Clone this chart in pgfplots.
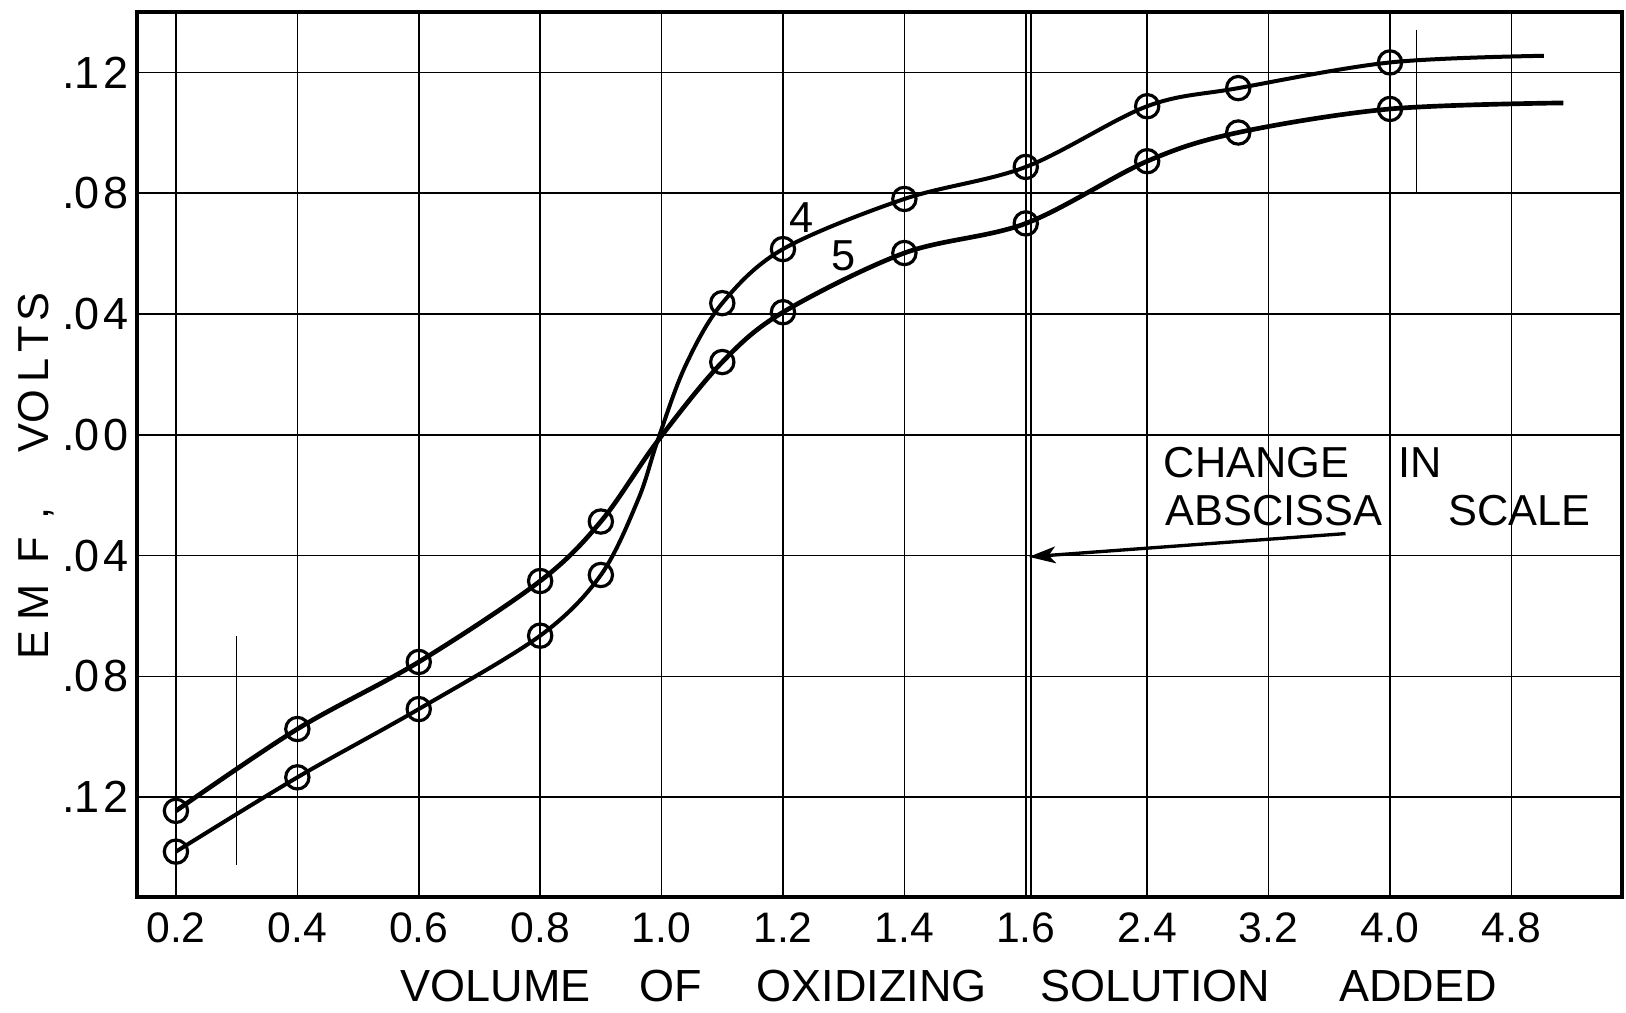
\documentclass[border=0pt]{standalone}
\usepackage{fontspec}
\setmainfont{Liberation Sans}
\usepackage{pgfplots}
\pgfplotsset{compat=1.18}
\usetikzlibrary{arrows.meta}

\begin{document}
\begin{tikzpicture}
\useasboundingbox (0,0) rectangle (487.8pt,303.9pt);
\begin{axis}[
  at={(41pt,34.9pt)}, anchor=south west,
  scale only axis, width=445.6pt, height=265.3pt,
  xmin=0.1353, xmax=2.5822, ymin=-0.1529, ymax=0.1399,
  xtick={0.2,0.4,0.6,0.8,1.0,1.2,1.4,1.6,1.8,2.0,2.2,2.4},
  xticklabels={0.2,0.4,0.6,0.8,1.0,1.2,1.4,1.6,2.4,3.2,4.0,4.8},
  ytick={-0.12,-0.08,-0.04,0,0.04,0.08,0.12},
  yticklabels={.1\kern1.2pt 2,.0\kern1.2pt 8,.0\kern1.2pt 4,.0\kern1.2pt 0,.0\kern1.2pt 4,.0\kern1.2pt 8,.1\kern1.2pt 2},
  major tick length=0pt,
  grid=major,
  major grid style={black, line width=0.5pt},
  axis line style={black, line width=1.15pt},
  xticklabel style={font=\fontsize{12.8}{14}\selectfont, inner sep=0pt, anchor=north},
  yticklabel style={font=\fontsize{13.5}{15}\selectfont, inner sep=0pt, anchor=east},
  xticklabel shift=4.6pt, yticklabel shift=2.2pt,
  clip=false,
]
% curve 4 (steep)
\addplot[black, line width=1.2pt, smooth, tension=0.55] coordinates {
 (0.2,-0.1380) (0.4,-0.1134) (0.6,-0.0908) (0.8,-0.0665) (0.9,-0.0464)
 (0.9613,-0.0215) (0.993,-0.0022) (1.0387,0.0226) (1.1,0.0436) (1.2,0.0615)
 (1.4,0.0781) (1.6,0.0887) (1.8,0.1088) (1.95,0.1148)
 (2.2,0.1233) (2.4535,0.1255)};
% curve 5
\addplot[black, line width=1.4pt, smooth, tension=0.55] coordinates {
 (0.2,-0.1245) (0.4,-0.0974) (0.6,-0.0752) (0.8,-0.0484) (0.9,-0.0287)
 (0.993,-0.0022) (1.1,0.0241) (1.2,0.0406) (1.4,0.0602) (1.6,0.0700)
 (1.8,0.0906) (1.95,0.1001) (2.2,0.1079) (2.4857,0.1099)};
\addplot[only marks, black, mark=o, mark size=3.5pt, mark options={line width=0.95pt}] coordinates {
 (0.2,-0.1380) (0.4,-0.1134) (0.6,-0.0908) (0.8,-0.0665) (0.9,-0.0464)
 (1.1,0.0436) (1.2,0.0615) (1.4,0.0781) (1.6,0.0887) (1.8,0.1088)
 (1.95,0.1148) (2.2,0.1233)};
\addplot[only marks, black, mark=o, mark size=3.5pt, mark options={line width=0.95pt}] coordinates {
 (0.2,-0.1245) (0.4,-0.0974) (0.6,-0.0752) (0.8,-0.0484) (0.9,-0.0287)
 (1.1,0.0241) (1.2,0.0406) (1.4,0.0602) (1.6,0.0700) (1.8,0.0906)
 (1.95,0.1001) (2.2,0.1079)};
% extra drafting lines
\draw[black, line width=0.5pt] (axis cs:0.3,-0.0665) -- (axis cs:0.3,-0.1423);
\draw[black, line width=0.5pt] (axis cs:2.2438,0.1342) -- (axis cs:2.2438,0.08);
\draw[black, line width=0.5pt] (axis cs:1.6085,-0.1529) -- (axis cs:1.6085,0.1399);
% curve labels
\node[font=\fontsize{13}{15}\selectfont, inner sep=0pt] at (axis cs:1.2302,0.0718) {4};
\node[font=\fontsize{13}{15}\selectfont, inner sep=0pt] at (axis cs:1.30,0.0592) {5};
% annotation
\node[font=\fontsize{13}{15}\selectfont, inner sep=0pt, anchor=base west] at (axis cs:1.8264,-0.0141) {CHANGE};
\node[font=\fontsize{13}{15}\selectfont, inner sep=0pt, anchor=base west] at (axis cs:2.2135,-0.0141) {IN};
\node[font=\fontsize{13}{15}\selectfont, inner sep=0pt, anchor=base west] at (axis cs:1.8297,-0.0301) {ABSCISSA};
\node[font=\fontsize{13}{15}\selectfont, inner sep=0pt, anchor=base west] at (axis cs:2.295,-0.0301) {SCALE};
\draw[black, line width=1pt, -{Stealth[length=8pt,width=5pt,inset=2pt]}] (axis cs:2.1267,-0.0327) -- (axis cs:1.605,-0.0404);
% axis labels
\node[font=\fontsize{13.5}{15}\selectfont, inner sep=0pt, anchor=base] at (axis cs:0.7272,-0.18775) {VOLUME};
\node[font=\fontsize{13.5}{15}\selectfont, inner sep=0pt, anchor=base] at (axis cs:1.0147,-0.18775) {OF};
\node[font=\fontsize{13.5}{15}\selectfont, inner sep=0pt, anchor=base] at (axis cs:1.3466,-0.18775) {OXIDIZING};
\node[font=\fontsize{13.5}{15}\selectfont, inner sep=0pt, anchor=base] at (axis cs:1.8129,-0.18775) {SOLUTION};
\node[font=\fontsize{13.5}{15}\selectfont, inner sep=0pt, anchor=base] at (axis cs:2.246,-0.18775) {ADDED};
\node[font=\fontsize{13}{15}\selectfont, inner sep=0pt, anchor=base, rotate=90] at (axis cs:-0.0104,-0.01374)
  {E\kern3.2pt M\kern6.3pt F\kern5.1pt ,\kern16.6pt V\kern0pt O\kern2pt L\kern1.8pt T\kern1.3pt S};
\end{axis}
\end{tikzpicture}
\end{document}
